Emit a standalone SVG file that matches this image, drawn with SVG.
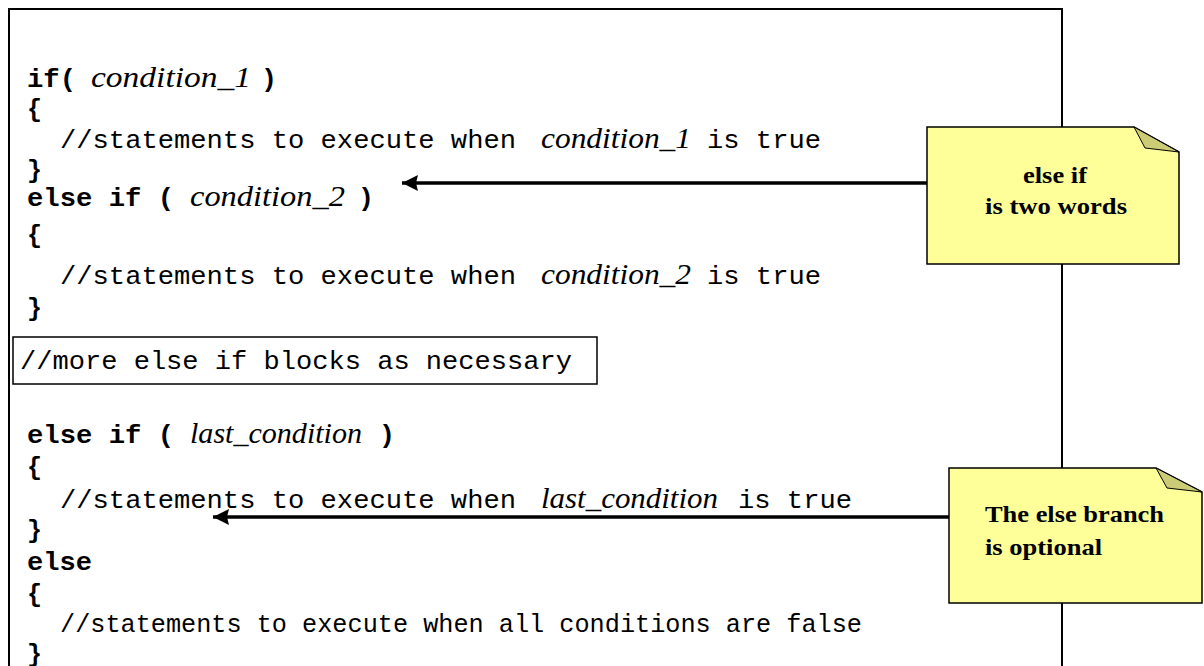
<svg xmlns="http://www.w3.org/2000/svg" width="1204" height="666" viewBox="0 0 1204 666">
<defs>
<style>
.code{font-family:"Liberation Mono","Courier New",monospace;font-size:25px;fill:#000}
.kw{font-weight:bold}
.it{font-family:"Liberation Serif","Times New Roman",serif;font-style:italic;font-size:30px;fill:#000}
.note{fill:#FFFF99;stroke:#000;stroke-width:1.5}
.fold{fill:#CCCC77;stroke:#000;stroke-width:1}
.nt{font-family:"Liberation Serif","Times New Roman",serif;font-weight:bold;font-size:24px;fill:#000}
.conn{stroke:#000;stroke-width:3.5;fill:none}
</style>
<marker id="ah" markerUnits="userSpaceOnUse" markerWidth="18" markerHeight="16" refX="16" refY="8" orient="auto">
<path d="M0,0 L16,8 L0,16 L2,8 Z" fill="#000"/>
</marker>
</defs>
<rect width="1204" height="666" fill="#fff"/>
<g id="frame">
<path d="M9,672 V9 H1062 V672" fill="none" stroke="#000" stroke-width="2"/>
</g>
<g id="code">
<text class="code kw" x="27" y="87" textLength="49" lengthAdjust="spacingAndGlyphs">if(</text>
<text class="it" x="91" y="87" textLength="160" lengthAdjust="spacingAndGlyphs">condition_1</text>
<text class="code kw" x="261" y="87" textLength="16" lengthAdjust="spacingAndGlyphs">)</text>
<text class="code kw" x="27" y="117">{</text>
<text class="code" x="60" y="148" textLength="456" lengthAdjust="spacingAndGlyphs">//statements to execute when</text>
<text class="it" x="541" y="148" textLength="150" lengthAdjust="spacingAndGlyphs">condition_1</text>
<text class="code" x="707" y="148" textLength="114" lengthAdjust="spacingAndGlyphs">is true</text>
<text class="code kw" x="27" y="178">}</text>
<text class="code kw" x="27" y="206" textLength="147" lengthAdjust="spacingAndGlyphs">else if (</text>
<text class="it" x="190" y="206" textLength="155" lengthAdjust="spacingAndGlyphs">condition_2</text>
<text class="code kw" x="358" y="206" textLength="16" lengthAdjust="spacingAndGlyphs">)</text>
<text class="code kw" x="27" y="243">{</text>
<text class="code" x="60" y="284" textLength="456" lengthAdjust="spacingAndGlyphs">//statements to execute when</text>
<text class="it" x="541" y="284" textLength="150" lengthAdjust="spacingAndGlyphs">condition_2</text>
<text class="code" x="707" y="284" textLength="114" lengthAdjust="spacingAndGlyphs">is true</text>
<text class="code kw" x="27" y="316">}</text>
<text class="code kw" x="27" y="443" textLength="147" lengthAdjust="spacingAndGlyphs">else if (</text>
<text class="it" x="190" y="443" textLength="172" lengthAdjust="spacingAndGlyphs">last_condition</text>
<text class="code kw" x="379" y="443" textLength="16" lengthAdjust="spacingAndGlyphs">)</text>
<text class="code kw" x="27" y="475">{</text>
<text class="code" x="60" y="508" textLength="456" lengthAdjust="spacingAndGlyphs">//statements to execute when</text>
<text class="it" x="541" y="508" textLength="177" lengthAdjust="spacingAndGlyphs">last_condition</text>
<text class="code" x="738" y="508" textLength="114" lengthAdjust="spacingAndGlyphs">is true</text>
<text class="code kw" x="27" y="538">}</text>
<text class="code kw" x="27" y="570" textLength="65" lengthAdjust="spacingAndGlyphs">else</text>
<text class="code kw" x="27" y="602">{</text>
<text class="code" x="60" y="632" textLength="802" lengthAdjust="spacingAndGlyphs">//statements to execute when all conditions are false</text>
<text class="code kw" x="27" y="662">}</text>
</g>
<g id="more-box">
<rect x="13" y="337" width="584" height="47" fill="#fff" stroke="#000" stroke-width="1.5"/>
<text class="code" x="20" y="369" textLength="552" lengthAdjust="spacingAndGlyphs">//more else if blocks as necessary</text>
</g>
<g id="connectors">
<line class="conn" x1="927" y1="183" x2="402" y2="183" marker-end="url(#ah)"/>
<line class="conn" x1="949" y1="517" x2="213" y2="517" marker-end="url(#ah)"/>
</g>
<g id="note-elseif">
<path class="note" d="M927,127 H1134 L1179,152 V264 H927 Z"/>
<path class="fold" d="M1134,127 L1145,148 L1179,152 Z"/>
<text class="nt" x="1023" y="183" textLength="64" lengthAdjust="spacingAndGlyphs">else if</text>
<text class="nt" x="985" y="214" textLength="142" lengthAdjust="spacingAndGlyphs">is two words</text>
</g>
<g id="note-else">
<path class="note" d="M949,468 H1156 L1202,492 V603 H949 Z"/>
<path class="fold" d="M1156,468 L1167,488 L1202,492 Z"/>
<text class="nt" x="985" y="522" textLength="179" lengthAdjust="spacingAndGlyphs">The else branch</text>
<text class="nt" x="985" y="555" textLength="117" lengthAdjust="spacingAndGlyphs">is optional</text>
</g>
</svg>
